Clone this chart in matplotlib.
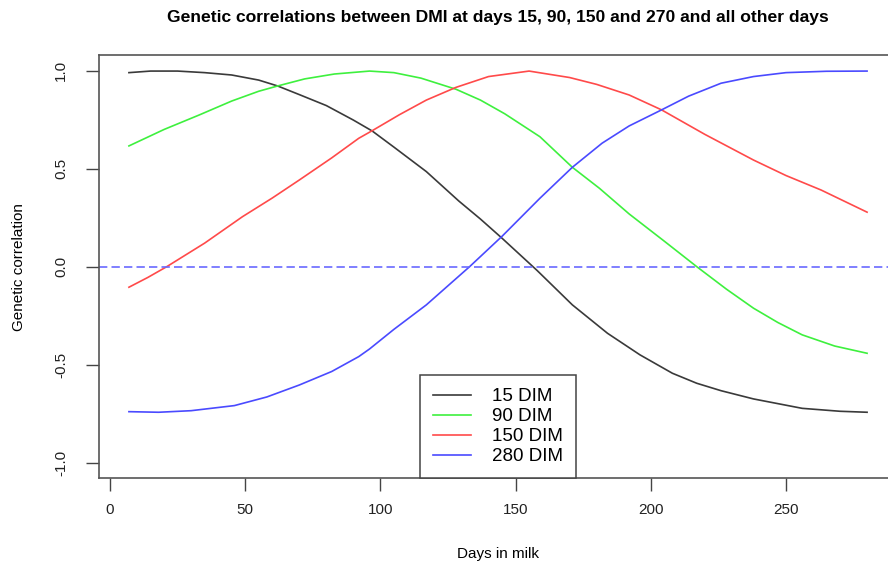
import matplotlib

matplotlib.use("Agg")
import matplotlib.pyplot as plt

plt.rcParams["font.family"] = ["Liberation Sans", "DejaVu Sans"]

TITLE = "Genetic correlations between DMI at days 15, 90, 150 and 270 and all other days"

# curves (days in milk, genetic correlation)
dim15_x = [7, 15, 25, 35, 45, 55, 62, 70, 80, 90, 97, 105, 117, 129, 137, 145, 158,
           171, 184, 196, 208, 217, 226, 238, 256, 270, 280]
dim15_y = [0.99, 0.998, 0.998, 0.99, 0.978, 0.952, 0.922, 0.878, 0.822, 0.748, 0.692,
           0.61, 0.485, 0.335, 0.243, 0.145, -0.02, -0.195, -0.34, -0.45, -0.544, -0.595,
           -0.633, -0.675, -0.723, -0.738, -0.743]

dim90_x = [7, 20, 33, 45, 55, 62, 72, 83, 96, 105, 115, 128, 137, 146, 159, 171, 181,
           192, 205, 217, 228, 238, 247, 256, 268, 280]
dim90_y = [0.616, 0.70, 0.774, 0.845, 0.895, 0.922, 0.958, 0.983, 0.998, 0.99, 0.962,
           0.905, 0.85, 0.78, 0.663, 0.507, 0.40, 0.269, 0.13, 0.0, -0.115, -0.212,
           -0.285, -0.348, -0.405, -0.442]

dim150_x = [7, 14, 21, 35, 49, 60, 70, 82, 92, 97, 107, 117, 128, 140, 155, 170, 180,
            192, 204, 220, 238, 250, 263, 280]
dim150_y = [-0.105, -0.055, 0.0, 0.12, 0.255, 0.35, 0.442, 0.555, 0.655, 0.694, 0.775,
            0.85, 0.915, 0.97, 0.998, 0.965, 0.93, 0.876, 0.80, 0.675, 0.544, 0.465,
            0.391, 0.278]

dim280_x = [7, 18, 30, 46, 58, 70, 82, 92, 96, 105, 117, 133, 145, 159, 171, 182,
            192, 204, 214, 226, 238, 250, 265, 280]
dim280_y = [-0.74, -0.743, -0.735, -0.709, -0.665, -0.604, -0.535, -0.459, -0.42,
            -0.32, -0.195, 0.0, 0.155, 0.349, 0.507, 0.63, 0.718, 0.80, 0.87, 0.936,
            0.97, 0.99, 0.997, 0.998]

LABELS = ["15 DIM", "90 DIM", "150 DIM", "280 DIM"]
COLORS = ["#3a3a3a", "#3ef03e", "#ff4a4a", "#4a4aff"]

xticks = [0, 50, 100, 150, 200, 250]
yticks = [-1.0, -0.5, 0.0, 0.5, 1.0]

fig = plt.figure(figsize=(8.88, 5.63), dpi=100)
# axes run past the right edge, the reference is cropped there
ax = fig.add_axes([99.4 / 888, (563 - 478.3) / 563, 797.2 / 888, 423.3 / 563])

series = [(dim15_x, dim15_y), (dim90_x, dim90_y), (dim150_x, dim150_y), (dim280_x, dim280_y)]
for (xs, ys), lab, col in zip(series, LABELS, COLORS):
    ax.plot(xs, ys, color=col, lw=1.2, label=lab)

ax.axhline(0.0, color="#6a6aff", lw=1.2, ls=(0, (5, 2.5)))

ax.set_xlim(-3.92, 290.92)
ax.set_ylim(-1.08, 1.08)
ax.set_xticks(xticks)
ax.set_xticklabels([str(t) for t in xticks])
ax.set_yticks(yticks)
ax.set_yticklabels([f"{t:.1f}" for t in yticks], rotation=90, va="center")
ax.tick_params(axis="both", length=9.5, width=1, color="#444444", labelsize=11,
               labelcolor="#222222")
ax.tick_params(axis="x", pad=8)
ax.tick_params(axis="y", pad=13)
for sp in ax.spines.values():
    sp.set_color("#555555")
    sp.set_linewidth(1.2)

ax.set_xlabel("Days in milk", fontsize=11, labelpad=22)
ax.set_ylabel("Genetic correlation", fontsize=11, labelpad=20)
ax.set_title(TITLE, fontsize=12.6, fontweight="bold", pad=24)

leg = ax.legend(loc="lower center", bbox_to_anchor=(0.5, 0.0), borderaxespad=0,
                fontsize=13.5, handlelength=2.0, handletextpad=1.1, labelspacing=0.15,
                borderpad=0.7, fancybox=False, framealpha=1, edgecolor="#444444")
leg.get_frame().set_linewidth(1.1)

fig.savefig("out.png", dpi=100)
